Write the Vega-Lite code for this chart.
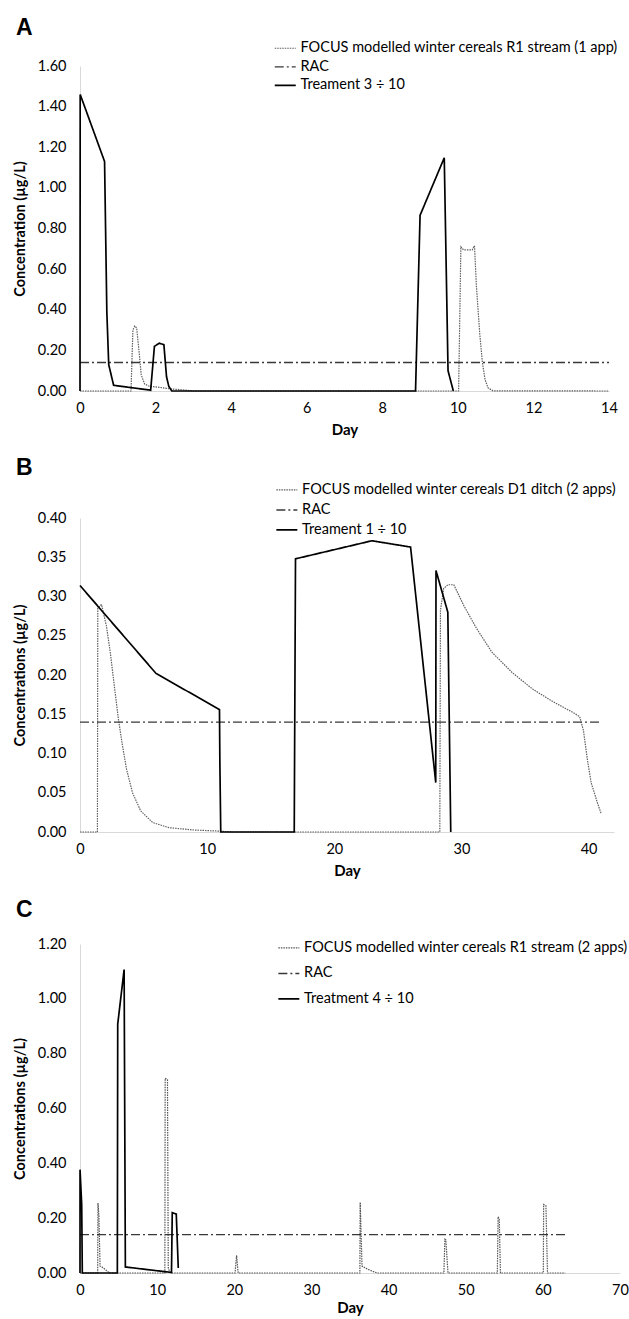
{
  "$schema": "https://vega.github.io/schema/vega-lite/v6.json",
  "background": "white",
  "padding": {"left": 12, "top": 17, "right": 0, "bottom": 0},
  "spacing": 19,
  "config": {
    "font": "Lato",
    "view": {"stroke": null},
    "axis": {"grid": false, "ticks": false, "domainColor": "#d9d9d9", "domainWidth": 1, "labelColor": "#000000", "labelFont": "Lato", "labelFontSize": 14.5, "titleFont": "Lato", "titleFontSize": 14.5, "titleFontWeight": "bold", "titleColor": "#000000"},
    "axisX": {"labelPadding": 10, "titlePadding": 8, "labelFlush": false, "titleFontSize": 15},
    "axisY": {"labelPadding": 14, "titlePadding": 10},
    "title": {"font": "Liberation Sans", "fontSize": 23, "fontWeight": "bold", "color": "#000000", "anchor": "start", "frame": "group", "dx": -64, "baseline": "bottom"},
    "legend": {"padding": 0, "symbolType": "M-2,0H2", "symbolSize": 110, "symbolStrokeWidth": 1.5, "labelFont": "Lato", "labelFontSize": 14.5, "labelColor": "#000000", "labelLimit": 0, "labelOffset": 8}
  },
  "resolve": {
    "scale": {"x": "independent", "y": "independent", "color": "independent", "strokeDash": "independent", "strokeWidth": "independent"},
    "legend": {"color": "independent", "strokeDash": "independent"}
  },
  "datasets": {
    "a": [
      {"s": "FOCUS modelled winter cereals R1 stream (1 app)", "x": 0, "y": 0},
      {"s": "FOCUS modelled winter cereals R1 stream (1 app)", "x": 1.35, "y": 0},
      {"s": "FOCUS modelled winter cereals R1 stream (1 app)", "x": 1.4, "y": 0.3},
      {"s": "FOCUS modelled winter cereals R1 stream (1 app)", "x": 1.45, "y": 0.32},
      {"s": "FOCUS modelled winter cereals R1 stream (1 app)", "x": 1.5, "y": 0.31},
      {"s": "FOCUS modelled winter cereals R1 stream (1 app)", "x": 1.56, "y": 0.2},
      {"s": "FOCUS modelled winter cereals R1 stream (1 app)", "x": 1.62, "y": 0.08},
      {"s": "FOCUS modelled winter cereals R1 stream (1 app)", "x": 1.71, "y": 0.034},
      {"s": "FOCUS modelled winter cereals R1 stream (1 app)", "x": 1.84, "y": 0.023},
      {"s": "FOCUS modelled winter cereals R1 stream (1 app)", "x": 2.1, "y": 0.018},
      {"s": "FOCUS modelled winter cereals R1 stream (1 app)", "x": 2.37, "y": 0.011},
      {"s": "FOCUS modelled winter cereals R1 stream (1 app)", "x": 2.63, "y": 0.007},
      {"s": "FOCUS modelled winter cereals R1 stream (1 app)", "x": 2.85, "y": 0.003},
      {"s": "FOCUS modelled winter cereals R1 stream (1 app)", "x": 3.0, "y": 0},
      {"s": "FOCUS modelled winter cereals R1 stream (1 app)", "x": 10.02, "y": 0},
      {"s": "FOCUS modelled winter cereals R1 stream (1 app)", "x": 10.08, "y": 0.71},
      {"s": "FOCUS modelled winter cereals R1 stream (1 app)", "x": 10.15, "y": 0.695},
      {"s": "FOCUS modelled winter cereals R1 stream (1 app)", "x": 10.38, "y": 0.695},
      {"s": "FOCUS modelled winter cereals R1 stream (1 app)", "x": 10.44, "y": 0.715},
      {"s": "FOCUS modelled winter cereals R1 stream (1 app)", "x": 10.49, "y": 0.52},
      {"s": "FOCUS modelled winter cereals R1 stream (1 app)", "x": 10.58, "y": 0.28},
      {"s": "FOCUS modelled winter cereals R1 stream (1 app)", "x": 10.65, "y": 0.14},
      {"s": "FOCUS modelled winter cereals R1 stream (1 app)", "x": 10.72, "y": 0.056},
      {"s": "FOCUS modelled winter cereals R1 stream (1 app)", "x": 10.8, "y": 0.015},
      {"s": "FOCUS modelled winter cereals R1 stream (1 app)", "x": 10.93, "y": 0.001},
      {"s": "FOCUS modelled winter cereals R1 stream (1 app)", "x": 14, "y": 0},
      {"s": "RAC", "x": 0, "y": 0.14},
      {"s": "RAC", "x": 14, "y": 0.14},
      {"s": "Treament 3 ÷ 10", "x": 0, "y": 0},
      {"s": "Treament 3 ÷ 10", "x": 0.005, "y": 1.46},
      {"s": "Treament 3 ÷ 10", "x": 0.65, "y": 1.13},
      {"s": "Treament 3 ÷ 10", "x": 0.71, "y": 0.39},
      {"s": "Treament 3 ÷ 10", "x": 0.76, "y": 0.13},
      {"s": "Treament 3 ÷ 10", "x": 0.89, "y": 0.028},
      {"s": "Treament 3 ÷ 10", "x": 1.87, "y": 0.004},
      {"s": "Treament 3 ÷ 10", "x": 1.97, "y": 0.22},
      {"s": "Treament 3 ÷ 10", "x": 2.1, "y": 0.235},
      {"s": "Treament 3 ÷ 10", "x": 2.22, "y": 0.228},
      {"s": "Treament 3 ÷ 10", "x": 2.29, "y": 0.07},
      {"s": "Treament 3 ÷ 10", "x": 2.35, "y": 0.023},
      {"s": "Treament 3 ÷ 10", "x": 2.43, "y": 0},
      {"s": "Treament 3 ÷ 10", "x": 8.88, "y": 0},
      {"s": "Treament 3 ÷ 10", "x": 9.0, "y": 0.865},
      {"s": "Treament 3 ÷ 10", "x": 9.64, "y": 1.148},
      {"s": "Treament 3 ÷ 10", "x": 9.74, "y": 0.1},
      {"s": "Treament 3 ÷ 10", "x": 9.88, "y": 0}
    ],
    "b": [
      {"s": "FOCUS modelled winter cereals D1 ditch (2 apps)", "x": 0, "y": 0},
      {"s": "FOCUS modelled winter cereals D1 ditch (2 apps)", "x": 1.37, "y": 0},
      {"s": "FOCUS modelled winter cereals D1 ditch (2 apps)", "x": 1.4, "y": 0.285},
      {"s": "FOCUS modelled winter cereals D1 ditch (2 apps)", "x": 1.69, "y": 0.29},
      {"s": "FOCUS modelled winter cereals D1 ditch (2 apps)", "x": 2.07, "y": 0.263},
      {"s": "FOCUS modelled winter cereals D1 ditch (2 apps)", "x": 2.38, "y": 0.229},
      {"s": "FOCUS modelled winter cereals D1 ditch (2 apps)", "x": 2.7, "y": 0.186},
      {"s": "FOCUS modelled winter cereals D1 ditch (2 apps)", "x": 3.02, "y": 0.144},
      {"s": "FOCUS modelled winter cereals D1 ditch (2 apps)", "x": 3.34, "y": 0.11},
      {"s": "FOCUS modelled winter cereals D1 ditch (2 apps)", "x": 3.66, "y": 0.08},
      {"s": "FOCUS modelled winter cereals D1 ditch (2 apps)", "x": 4.13, "y": 0.05},
      {"s": "FOCUS modelled winter cereals D1 ditch (2 apps)", "x": 4.77, "y": 0.027},
      {"s": "FOCUS modelled winter cereals D1 ditch (2 apps)", "x": 5.72, "y": 0.012},
      {"s": "FOCUS modelled winter cereals D1 ditch (2 apps)", "x": 7.0, "y": 0.0055},
      {"s": "FOCUS modelled winter cereals D1 ditch (2 apps)", "x": 8.9, "y": 0.0026},
      {"s": "FOCUS modelled winter cereals D1 ditch (2 apps)", "x": 11.07, "y": 0.001},
      {"s": "FOCUS modelled winter cereals D1 ditch (2 apps)", "x": 12, "y": 0},
      {"s": "FOCUS modelled winter cereals D1 ditch (2 apps)", "x": 28.3, "y": 0},
      {"s": "FOCUS modelled winter cereals D1 ditch (2 apps)", "x": 28.35, "y": 0.282},
      {"s": "FOCUS modelled winter cereals D1 ditch (2 apps)", "x": 28.6, "y": 0.31},
      {"s": "FOCUS modelled winter cereals D1 ditch (2 apps)", "x": 28.93, "y": 0.315},
      {"s": "FOCUS modelled winter cereals D1 ditch (2 apps)", "x": 29.4, "y": 0.315},
      {"s": "FOCUS modelled winter cereals D1 ditch (2 apps)", "x": 30.2, "y": 0.288},
      {"s": "FOCUS modelled winter cereals D1 ditch (2 apps)", "x": 31.2, "y": 0.259},
      {"s": "FOCUS modelled winter cereals D1 ditch (2 apps)", "x": 32.4, "y": 0.229},
      {"s": "FOCUS modelled winter cereals D1 ditch (2 apps)", "x": 34.0, "y": 0.203},
      {"s": "FOCUS modelled winter cereals D1 ditch (2 apps)", "x": 35.6, "y": 0.182},
      {"s": "FOCUS modelled winter cereals D1 ditch (2 apps)", "x": 37.2, "y": 0.166},
      {"s": "FOCUS modelled winter cereals D1 ditch (2 apps)", "x": 38.8, "y": 0.152},
      {"s": "FOCUS modelled winter cereals D1 ditch (2 apps)", "x": 39.3, "y": 0.147},
      {"s": "FOCUS modelled winter cereals D1 ditch (2 apps)", "x": 39.6, "y": 0.129},
      {"s": "FOCUS modelled winter cereals D1 ditch (2 apps)", "x": 39.9, "y": 0.093},
      {"s": "FOCUS modelled winter cereals D1 ditch (2 apps)", "x": 40.2, "y": 0.063},
      {"s": "FOCUS modelled winter cereals D1 ditch (2 apps)", "x": 40.7, "y": 0.037},
      {"s": "FOCUS modelled winter cereals D1 ditch (2 apps)", "x": 41.0, "y": 0.023},
      {"s": "RAC", "x": 0, "y": 0.14},
      {"s": "RAC", "x": 41, "y": 0.14},
      {"s": "Treament 1 ÷ 10", "x": 0, "y": 0.314},
      {"s": "Treament 1 ÷ 10", "x": 5.98, "y": 0.202},
      {"s": "Treament 1 ÷ 10", "x": 10.97, "y": 0.156},
      {"s": "Treament 1 ÷ 10", "x": 11.0, "y": 0.09},
      {"s": "Treament 1 ÷ 10", "x": 11.07, "y": 0},
      {"s": "Treament 1 ÷ 10", "x": 16.85, "y": 0},
      {"s": "Treament 1 ÷ 10", "x": 16.95, "y": 0.348},
      {"s": "Treament 1 ÷ 10", "x": 22.96, "y": 0.371},
      {"s": "Treament 1 ÷ 10", "x": 26.0, "y": 0.363},
      {"s": "Treament 1 ÷ 10", "x": 27.98, "y": 0.063},
      {"s": "Treament 1 ÷ 10", "x": 28.0, "y": 0.333},
      {"s": "Treament 1 ÷ 10", "x": 28.93, "y": 0.28},
      {"s": "Treament 1 ÷ 10", "x": 29.16, "y": 0}
    ],
    "c": [
      {"s": "FOCUS modelled winter cereals R1 stream (2 apps)", "x": 0, "y": 0},
      {"s": "FOCUS modelled winter cereals R1 stream (2 apps)", "x": 2.29, "y": 0},
      {"s": "FOCUS modelled winter cereals R1 stream (2 apps)", "x": 2.33, "y": 0.255},
      {"s": "FOCUS modelled winter cereals R1 stream (2 apps)", "x": 2.45, "y": 0.21},
      {"s": "FOCUS modelled winter cereals R1 stream (2 apps)", "x": 2.6, "y": 0.025},
      {"s": "FOCUS modelled winter cereals R1 stream (2 apps)", "x": 2.86, "y": 0.022},
      {"s": "FOCUS modelled winter cereals R1 stream (2 apps)", "x": 3.38, "y": 0.01},
      {"s": "FOCUS modelled winter cereals R1 stream (2 apps)", "x": 3.74, "y": 0.002},
      {"s": "FOCUS modelled winter cereals R1 stream (2 apps)", "x": 3.8, "y": 0},
      {"s": "FOCUS modelled winter cereals R1 stream (2 apps)", "x": 11.0, "y": 0},
      {"s": "FOCUS modelled winter cereals R1 stream (2 apps)", "x": 11.04, "y": 0.71},
      {"s": "FOCUS modelled winter cereals R1 stream (2 apps)", "x": 11.34, "y": 0.705},
      {"s": "FOCUS modelled winter cereals R1 stream (2 apps)", "x": 11.44, "y": 0.02},
      {"s": "FOCUS modelled winter cereals R1 stream (2 apps)", "x": 11.6, "y": 0.005},
      {"s": "FOCUS modelled winter cereals R1 stream (2 apps)", "x": 11.8, "y": 0},
      {"s": "FOCUS modelled winter cereals R1 stream (2 apps)", "x": 20.1, "y": 0},
      {"s": "FOCUS modelled winter cereals R1 stream (2 apps)", "x": 20.3, "y": 0.065},
      {"s": "FOCUS modelled winter cereals R1 stream (2 apps)", "x": 20.5, "y": 0},
      {"s": "FOCUS modelled winter cereals R1 stream (2 apps)", "x": 36.28, "y": 0},
      {"s": "FOCUS modelled winter cereals R1 stream (2 apps)", "x": 36.32, "y": 0.258},
      {"s": "FOCUS modelled winter cereals R1 stream (2 apps)", "x": 36.56, "y": 0.025},
      {"s": "FOCUS modelled winter cereals R1 stream (2 apps)", "x": 37.2, "y": 0.015},
      {"s": "FOCUS modelled winter cereals R1 stream (2 apps)", "x": 37.96, "y": 0.006},
      {"s": "FOCUS modelled winter cereals R1 stream (2 apps)", "x": 38.5, "y": 0},
      {"s": "FOCUS modelled winter cereals R1 stream (2 apps)", "x": 47.17, "y": 0},
      {"s": "FOCUS modelled winter cereals R1 stream (2 apps)", "x": 47.3, "y": 0.123},
      {"s": "FOCUS modelled winter cereals R1 stream (2 apps)", "x": 47.43, "y": 0.12},
      {"s": "FOCUS modelled winter cereals R1 stream (2 apps)", "x": 47.7, "y": 0},
      {"s": "FOCUS modelled winter cereals R1 stream (2 apps)", "x": 54.1, "y": 0},
      {"s": "FOCUS modelled winter cereals R1 stream (2 apps)", "x": 54.2, "y": 0.205},
      {"s": "FOCUS modelled winter cereals R1 stream (2 apps)", "x": 54.35, "y": 0.196},
      {"s": "FOCUS modelled winter cereals R1 stream (2 apps)", "x": 54.5, "y": 0},
      {"s": "FOCUS modelled winter cereals R1 stream (2 apps)", "x": 60.06, "y": 0},
      {"s": "FOCUS modelled winter cereals R1 stream (2 apps)", "x": 60.1, "y": 0.25},
      {"s": "FOCUS modelled winter cereals R1 stream (2 apps)", "x": 60.4, "y": 0.245},
      {"s": "FOCUS modelled winter cereals R1 stream (2 apps)", "x": 60.6, "y": 0},
      {"s": "FOCUS modelled winter cereals R1 stream (2 apps)", "x": 62.9, "y": 0},
      {"s": "RAC", "x": 0, "y": 0.14},
      {"s": "RAC", "x": 63, "y": 0.14},
      {"s": "Treatment 4 ÷ 10", "x": 0, "y": 0},
      {"s": "Treatment 4 ÷ 10", "x": 0.005, "y": 0.377},
      {"s": "Treatment 4 ÷ 10", "x": 0.22, "y": 0.25},
      {"s": "Treatment 4 ÷ 10", "x": 0.3, "y": 0},
      {"s": "Treatment 4 ÷ 10", "x": 4.84, "y": 0},
      {"s": "Treatment 4 ÷ 10", "x": 4.89, "y": 0.908},
      {"s": "Treatment 4 ÷ 10", "x": 5.72, "y": 1.107},
      {"s": "Treatment 4 ÷ 10", "x": 5.88, "y": 0.022},
      {"s": "Treatment 4 ÷ 10", "x": 11.86, "y": 0.002},
      {"s": "Treatment 4 ÷ 10", "x": 11.96, "y": 0.22},
      {"s": "Treatment 4 ÷ 10", "x": 12.48, "y": 0.215},
      {"s": "Treatment 4 ÷ 10", "x": 12.74, "y": 0.018}
    ]
  },
  "vconcat": [
    {
      "width": 529, "height": 325,
      "title": {"text": "A", "offset": 0.6},
      "data": {"name": "a"},
      "mark": {"type": "line"},
      "encoding": {
        "x": {"field": "x", "type": "quantitative", "scale": {"domain": [0, 14], "nice": false}, "axis": {"values": [0, 2, 4, 6, 8, 10, 12, 14], "format": "d", "title": "Day"}},
        "y": {"field": "y", "type": "quantitative", "scale": {"domain": [0, 1.6], "nice": false}, "axis": {"values": [0, 0.2, 0.4, 0.6, 0.8, 1.0, 1.2, 1.4, 1.6], "format": ".2f", "title": "Concentration (µg/L)"}},
        "color": {"field": "s", "type": "nominal", "scale": {"domain": ["FOCUS modelled winter cereals R1 stream (1 app)", "RAC", "Treament 3 ÷ 10"], "range": ["#5e5e5e", "#383838", "#000000"]}, "legend": {"title": null, "orient": "none", "legendX": 198, "legendY": -25, "rowPadding": 3.6}},
        "strokeDash": {"field": "s", "type": "nominal", "scale": {"domain": ["FOCUS modelled winter cereals R1 stream (1 app)", "RAC", "Treament 3 ÷ 10"], "range": [[1.5, 1], [9, 3, 2, 3], [1, 0]]}, "legend": {"title": null, "orient": "none", "legendX": 198, "legendY": -25, "rowPadding": 3.6}},
        "strokeWidth": {"field": "s", "type": "nominal", "scale": {"domain": ["FOCUS modelled winter cereals R1 stream (1 app)", "RAC", "Treament 3 ÷ 10"], "range": [1.2, 1.7, 1.5]}, "legend": null}
      }
    },
    {
      "width": 534, "height": 314,
      "title": {"text": "B", "offset": 2.4},
      "data": {"name": "b"},
      "mark": {"type": "line"},
      "encoding": {
        "x": {"field": "x", "type": "quantitative", "scale": {"domain": [0, 42], "nice": false}, "axis": {"values": [0, 10, 20, 30, 40], "format": "d", "title": "Day"}},
        "y": {"field": "y", "type": "quantitative", "scale": {"domain": [0, 0.4], "nice": false}, "axis": {"values": [0, 0.05, 0.1, 0.15, 0.2, 0.25, 0.3, 0.35, 0.4], "format": ".2f", "title": "Concentrations (µg/L)"}},
        "color": {"field": "s", "type": "nominal", "scale": {"domain": ["FOCUS modelled winter cereals D1 ditch (2 apps)", "RAC", "Treament 1 ÷ 10"], "range": ["#5e5e5e", "#383838", "#000000"]}, "legend": {"title": null, "orient": "none", "legendX": 199.6, "legendY": -35.3, "rowPadding": 5}},
        "strokeDash": {"field": "s", "type": "nominal", "scale": {"domain": ["FOCUS modelled winter cereals D1 ditch (2 apps)", "RAC", "Treament 1 ÷ 10"], "range": [[1.5, 1], [9, 3, 2, 3], [1, 0]]}, "legend": {"title": null, "orient": "none", "legendX": 199.6, "legendY": -35.3, "rowPadding": 5}},
        "strokeWidth": {"field": "s", "type": "nominal", "scale": {"domain": ["FOCUS modelled winter cereals D1 ditch (2 apps)", "RAC", "Treament 1 ÷ 10"], "range": [1.2, 1.7, 1.5]}, "legend": null}
      }
    },
    {
      "width": 540, "height": 329,
      "title": {"text": "C", "offset": 14.4},
      "data": {"name": "c"},
      "mark": {"type": "line"},
      "encoding": {
        "x": {"field": "x", "type": "quantitative", "scale": {"domain": [0, 70], "nice": false}, "axis": {"values": [0, 10, 20, 30, 40, 50, 60, 70], "format": "d", "title": "Day", "titlePadding": 4}},
        "y": {"field": "y", "type": "quantitative", "scale": {"domain": [0, 1.2], "nice": false}, "axis": {"values": [0, 0.2, 0.4, 0.6, 0.8, 1.0, 1.2], "format": ".2f", "title": "Concentrations (µg/L)"}},
        "color": {"field": "s", "type": "nominal", "scale": {"domain": ["FOCUS modelled winter cereals R1 stream (2 apps)", "RAC", "Treatment 4 ÷ 10"], "range": ["#555555", "#383838", "#000000"]}, "legend": {"title": null, "orient": "none", "legendX": 201.6, "legendY": -3.3, "rowPadding": 10.5}},
        "strokeDash": {"field": "s", "type": "nominal", "scale": {"domain": ["FOCUS modelled winter cereals R1 stream (2 apps)", "RAC", "Treatment 4 ÷ 10"], "range": [[1.5, 1], [9, 3, 2, 3], [1, 0]]}, "legend": {"title": null, "orient": "none", "legendX": 201.6, "legendY": -3.3, "rowPadding": 10.5}},
        "strokeWidth": {"field": "s", "type": "nominal", "scale": {"domain": ["FOCUS modelled winter cereals R1 stream (2 apps)", "RAC", "Treatment 4 ÷ 10"], "range": [1.2, 1.7, 1.5]}, "legend": null}
      }
    }
  ]
}
